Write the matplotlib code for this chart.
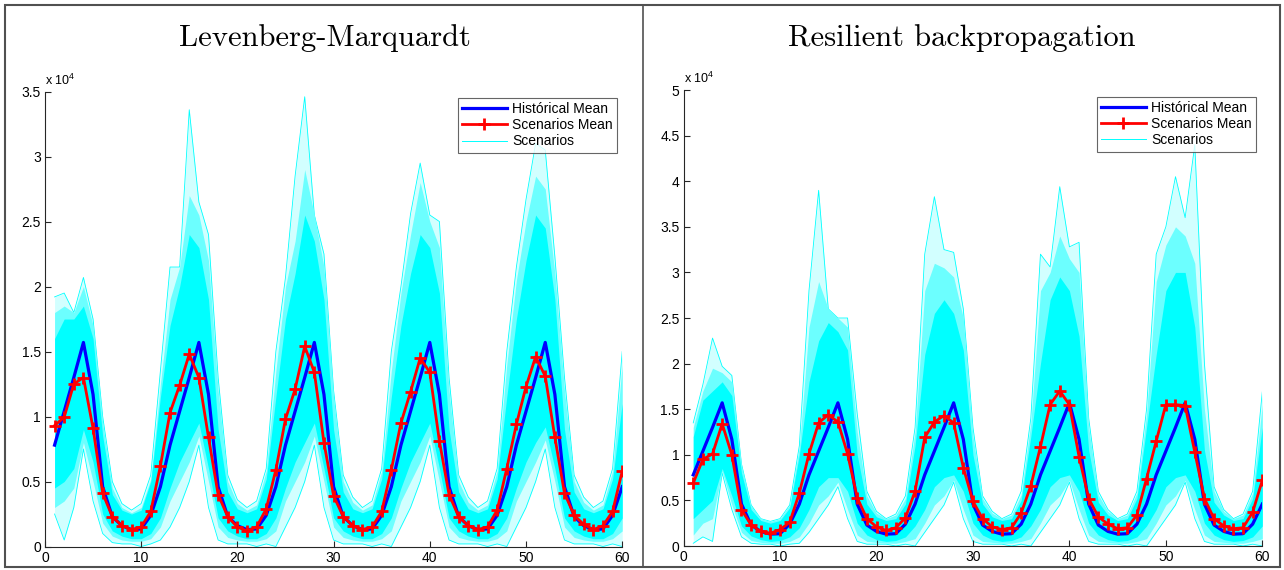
import matplotlib.pyplot as plt
from matplotlib.patches import Rectangle
from matplotlib.lines import Line2D

# eixo x: meses 1..60 ; valores em unidades de 10^4
meses = list(range(1, 61))

media_historica = [
    0.78, 1.04, 1.30, 1.57, 1.17, 0.46, 0.23, 0.16, 0.13, 0.135, 0.24, 0.46,
    0.78, 1.04, 1.30, 1.57, 1.17, 0.46, 0.23, 0.16, 0.13, 0.135, 0.24, 0.46,
    0.78, 1.04, 1.30, 1.57, 1.17, 0.46, 0.23, 0.16, 0.13, 0.135, 0.24, 0.46,
    0.78, 1.04, 1.30, 1.57, 1.17, 0.46, 0.23, 0.16, 0.13, 0.135, 0.24, 0.46,
    0.78, 1.04, 1.30, 1.57, 1.17, 0.46, 0.23, 0.16, 0.13, 0.135, 0.24, 0.46,
]

# ---------------- Levenberg-Marquardt ----------------
lm_media = [
    0.93, 0.995, 1.25, 1.30, 0.91, 0.41, 0.23, 0.16, 0.13, 0.15, 0.27, 0.62,
    1.03, 1.24, 1.48, 1.30, 0.84, 0.40, 0.23, 0.15, 0.12, 0.15, 0.29, 0.59,
    0.98, 1.21, 1.54, 1.34, 0.80, 0.39, 0.23, 0.16, 0.13, 0.15, 0.27, 0.59,
    0.95, 1.19, 1.45, 1.34, 0.81, 0.40, 0.23, 0.16, 0.13, 0.15, 0.28, 0.60,
    0.94, 1.23, 1.46, 1.31, 0.84, 0.41, 0.24, 0.17, 0.13, 0.16, 0.27, 0.58,
]
# envelope dos cenarios (maximo / minimo de todos)
lm_max = [
    1.92, 1.95, 1.80, 2.07, 1.75, 1.00, 0.50, 0.33, 0.28, 0.33, 0.55, 1.35,
    2.15, 2.15, 3.36, 2.65, 2.40, 1.30, 0.55, 0.36, 0.30, 0.35, 0.60, 1.50,
    2.07, 2.85, 3.46, 2.55, 2.25, 1.20, 0.55, 0.38, 0.30, 0.35, 0.60, 1.50,
    2.00, 2.56, 2.95, 2.55, 2.50, 1.30, 0.55, 0.38, 0.30, 0.35, 0.60, 1.50,
    2.15, 2.67, 3.10, 3.05, 2.23, 1.30, 0.55, 0.38, 0.30, 0.35, 0.60, 1.50,
]
lm_min = [
    0.25, 0.05, 0.30, 0.75, 0.35, 0.10, 0.03, 0.02, 0.02, 0.00, 0.02, 0.05,
    0.15, 0.30, 0.50, 0.78, 0.30, 0.05, 0.02, 0.02, 0.02, 0.00, 0.02, 0.00,
    0.15, 0.30, 0.50, 0.78, 0.30, 0.05, 0.02, 0.02, 0.02, 0.00, 0.02, 0.00,
    0.15, 0.30, 0.50, 0.78, 0.30, 0.05, 0.02, 0.02, 0.02, 0.00, 0.02, 0.00,
    0.15, 0.30, 0.50, 0.75, 0.30, 0.05, 0.02, 0.02, 0.02, 0.00, 0.02, 0.00,
]
# faixa onde as linhas ainda sao frequentes
lm_faixa_sup = [
    1.80, 1.85, 1.80, 2.00, 1.70, 0.95, 0.45, 0.30, 0.26, 0.30, 0.52, 1.25,
    1.90, 2.15, 2.70, 2.55, 2.20, 1.20, 0.50, 0.33, 0.28, 0.32, 0.58, 1.35,
    2.00, 2.35, 2.90, 2.55, 2.15, 1.15, 0.50, 0.34, 0.28, 0.32, 0.58, 1.35,
    1.95, 2.40, 2.80, 2.50, 2.30, 1.20, 0.50, 0.34, 0.28, 0.32, 0.58, 1.40,
    2.05, 2.50, 2.85, 2.75, 2.10, 1.20, 0.50, 0.34, 0.28, 0.32, 0.58, 1.40,
]
lm_faixa_inf = [
    0.30, 0.35, 0.45, 0.80, 0.50, 0.18, 0.08, 0.05, 0.04, 0.04, 0.06, 0.15,
    0.35, 0.50, 0.65, 0.85, 0.50, 0.15, 0.07, 0.05, 0.04, 0.04, 0.06, 0.12,
    0.35, 0.50, 0.65, 0.85, 0.50, 0.15, 0.07, 0.05, 0.04, 0.04, 0.06, 0.12,
    0.35, 0.50, 0.65, 0.85, 0.50, 0.15, 0.07, 0.05, 0.04, 0.04, 0.06, 0.12,
    0.35, 0.50, 0.65, 0.82, 0.50, 0.15, 0.07, 0.05, 0.04, 0.04, 0.06, 0.12,
]
# nucleo denso
lm_nucleo_sup = [
    1.60, 1.75, 1.75, 1.85, 1.60, 0.85, 0.40, 0.28, 0.25, 0.28, 0.50, 1.15,
    1.70, 2.00, 2.40, 2.30, 1.90, 0.90, 0.42, 0.29, 0.26, 0.29, 0.52, 1.15,
    1.75, 2.10, 2.55, 2.35, 1.90, 0.90, 0.42, 0.29, 0.26, 0.29, 0.52, 1.15,
    1.70, 2.10, 2.40, 2.30, 1.95, 0.90, 0.42, 0.29, 0.26, 0.29, 0.52, 1.15,
    1.75, 2.20, 2.55, 2.45, 1.90, 0.90, 0.42, 0.29, 0.26, 0.29, 0.52, 1.10,
]
lm_nucleo_inf = [
    0.45, 0.50, 0.60, 0.90, 0.65, 0.25, 0.12, 0.08, 0.06, 0.06, 0.10, 0.22,
    0.45, 0.65, 0.80, 0.95, 0.60, 0.22, 0.12, 0.08, 0.06, 0.06, 0.10, 0.22,
    0.45, 0.65, 0.80, 0.95, 0.60, 0.22, 0.12, 0.08, 0.06, 0.06, 0.10, 0.22,
    0.45, 0.65, 0.80, 0.95, 0.60, 0.22, 0.12, 0.08, 0.06, 0.06, 0.10, 0.22,
    0.45, 0.65, 0.80, 0.92, 0.60, 0.22, 0.12, 0.08, 0.06, 0.06, 0.10, 0.22,
]

# ---------------- Resilient backpropagation ----------------
rp_media = [
    0.69, 0.95, 1.01, 1.34, 1.00, 0.40, 0.23, 0.16, 0.14, 0.18, 0.26, 0.58,
    1.01, 1.35, 1.44, 1.36, 1.01, 0.53, 0.30, 0.21, 0.17, 0.20, 0.31, 0.60,
    1.19, 1.36, 1.43, 1.35, 0.86, 0.49, 0.30, 0.21, 0.18, 0.20, 0.36, 0.66,
    1.09, 1.55, 1.70, 1.55, 0.98, 0.52, 0.32, 0.24, 0.19, 0.20, 0.34, 0.74,
    1.15, 1.55, 1.55, 1.54, 1.03, 0.52, 0.30, 0.22, 0.19, 0.20, 0.37, 0.72,
]
rp_max = [
    1.35, 1.77, 2.28, 1.97, 1.87, 0.90, 0.45, 0.30, 0.27, 0.30, 0.45, 1.10,
    2.80, 3.90, 2.60, 2.50, 2.50, 1.45, 0.60, 0.38, 0.30, 0.35, 0.55, 1.30,
    3.20, 3.83, 3.25, 3.22, 2.60, 1.30, 0.55, 0.38, 0.30, 0.35, 0.60, 1.40,
    3.20, 3.06, 3.94, 3.28, 3.33, 1.40, 0.60, 0.40, 0.30, 0.35, 0.60, 1.50,
    3.20, 3.50, 4.05, 3.60, 4.40, 2.00, 0.65, 0.40, 0.30, 0.35, 0.60, 1.69,
]
rp_min = [
    0.03, 0.10, 0.05, 0.80, 0.40, 0.10, 0.03, 0.02, 0.02, 0.00, 0.02, 0.03,
    0.15, 0.30, 0.45, 0.65, 0.30, 0.05, 0.02, 0.02, 0.02, 0.00, 0.02, 0.00,
    0.15, 0.30, 0.45, 0.70, 0.30, 0.05, 0.02, 0.02, 0.02, 0.00, 0.02, 0.00,
    0.15, 0.30, 0.45, 0.70, 0.30, 0.05, 0.02, 0.02, 0.02, 0.00, 0.02, 0.00,
    0.15, 0.30, 0.45, 0.70, 0.30, 0.05, 0.02, 0.02, 0.02, 0.00, 0.02, 0.00,
]
rp_faixa_sup = [
    1.30, 1.70, 1.95, 1.90, 1.80, 0.88, 0.44, 0.30, 0.27, 0.30, 0.45, 1.08,
    2.40, 2.90, 2.60, 2.50, 2.40, 1.25, 0.55, 0.36, 0.30, 0.34, 0.52, 1.25,
    2.80, 3.10, 3.05, 2.95, 2.50, 1.20, 0.52, 0.36, 0.30, 0.34, 0.56, 1.35,
    2.80, 3.00, 3.40, 3.15, 3.00, 1.30, 0.56, 0.38, 0.30, 0.34, 0.58, 1.45,
    2.90, 3.30, 3.50, 3.40, 3.10, 1.50, 0.60, 0.38, 0.30, 0.34, 0.58, 1.55,
]
rp_faixa_inf = [
    0.12, 0.25, 0.30, 0.82, 0.45, 0.15, 0.06, 0.04, 0.03, 0.03, 0.05, 0.10,
    0.25, 0.45, 0.55, 0.70, 0.40, 0.12, 0.05, 0.04, 0.03, 0.03, 0.05, 0.08,
    0.25, 0.45, 0.55, 0.72, 0.40, 0.12, 0.05, 0.04, 0.03, 0.03, 0.05, 0.08,
    0.25, 0.45, 0.55, 0.72, 0.40, 0.12, 0.05, 0.04, 0.03, 0.03, 0.05, 0.08,
    0.25, 0.45, 0.55, 0.72, 0.40, 0.12, 0.05, 0.04, 0.03, 0.03, 0.05, 0.08,
]
rp_nucleo_sup = [
    1.20, 1.60, 1.70, 1.80, 1.65, 0.80, 0.40, 0.28, 0.25, 0.28, 0.42, 1.00,
    1.80, 2.25, 2.45, 2.35, 2.15, 1.00, 0.46, 0.32, 0.28, 0.30, 0.46, 1.10,
    2.10, 2.55, 2.70, 2.55, 2.15, 1.00, 0.46, 0.32, 0.28, 0.30, 0.50, 1.20,
    2.00, 2.70, 2.95, 2.80, 2.30, 1.05, 0.48, 0.34, 0.28, 0.30, 0.52, 1.30,
    2.10, 2.80, 3.00, 3.00, 2.40, 1.05, 0.48, 0.34, 0.28, 0.30, 0.52, 1.30,
]
rp_nucleo_inf = [
    0.30, 0.40, 0.50, 0.85, 0.55, 0.22, 0.11, 0.07, 0.05, 0.06, 0.10, 0.20,
    0.40, 0.65, 0.75, 0.75, 0.60, 0.25, 0.12, 0.07, 0.05, 0.06, 0.10, 0.22,
    0.40, 0.65, 0.75, 0.78, 0.60, 0.25, 0.12, 0.07, 0.05, 0.06, 0.10, 0.22,
    0.40, 0.65, 0.75, 0.78, 0.60, 0.25, 0.12, 0.07, 0.05, 0.06, 0.10, 0.22,
    0.40, 0.65, 0.75, 0.78, 0.60, 0.25, 0.12, 0.07, 0.05, 0.06, 0.10, 0.22,
]

rotulos_legenda = ['Histórical Mean', 'Scenarios Mean', 'Scenarios']

plt.rcParams['font.family'] = ['Liberation Sans', 'DejaVu Sans']
COR_EIXO = '#262626'


def desenhar_painel(ax, media_cen, c_min, c_max, f_inf, f_sup, n_inf, n_sup,
                    ymax, ancora):
    # cenarios: contorno extremo (poucas linhas), faixa intermediaria e nucleo denso
    ax.fill_between(meses, c_min, c_max, color='#d2ffff', lw=0, zorder=1)
    ax.plot(meses, c_max, color='#00ffff', lw=0.6, zorder=1)
    ax.plot(meses, c_min, color='#00ffff', lw=0.6, zorder=1)
    ax.fill_between(meses, f_inf, f_sup, color='#6cffff', lw=0, zorder=1)
    ax.fill_between(meses, n_inf, n_sup, color='#00ffff', lw=0, zorder=2)
    h_cen = Line2D([], [], color='#00ffff', lw=0.7)

    h_hist, = ax.plot(meses, media_historica, color='#0000ff', lw=2.3, zorder=4)
    h_med, = ax.plot(meses, media_cen, color='#ff0000', lw=2.0, marker='+',
                     ms=8, mew=2.0, zorder=5)

    ax.set_xlim(0, 60)
    ax.set_ylim(0, ymax)
    ax.set_xticks(range(0, 61, 10))
    yt = [i * 0.5 for i in range(int(ymax / 0.5) + 1)]
    ax.set_yticks(yt)
    ax.set_yticklabels(['%g' % v for v in yt])
    for lado in ['top', 'right']:
        ax.spines[lado].set_visible(False)
    for lado in ['left', 'bottom']:
        ax.spines[lado].set_color(COR_EIXO)
        ax.spines[lado].set_linewidth(0.8)
    ax.tick_params(direction='in', length=4, width=0.8, color=COR_EIXO,
                   labelsize=10, pad=3)
    ax.text(0.0, 1.008, r'x 10$^{\mathregular{4}}$', transform=ax.transAxes,
            fontsize=9, ha='left', va='bottom')

    leg = ax.legend([h_hist, h_med, h_cen], rotulos_legenda, loc='upper right',
                    bbox_to_anchor=ancora, fontsize=10, frameon=True,
                    fancybox=False, handlelength=3.2, handletextpad=0.4,
                    labelspacing=0.15, borderpad=0.3, borderaxespad=0)
    leg.get_frame().set_edgecolor('#404040')
    leg.get_frame().set_linewidth(0.8)
    leg.set_zorder(10)


fig = plt.figure(figsize=(12.84, 5.70), dpi=100)
ax1 = fig.add_axes([0.0350, 0.0412, 0.4496, 0.7982])
ax2 = fig.add_axes([0.5324, 0.0421, 0.4507, 0.8000])

desenhar_painel(ax1, lm_media, lm_min, lm_max, lm_faixa_inf, lm_faixa_sup,
                lm_nucleo_inf, lm_nucleo_sup, 3.5, (0.9908, 0.9857))
desenhar_painel(ax2, rp_media, rp_min, rp_max, rp_faixa_inf, rp_faixa_sup,
                rp_nucleo_inf, rp_nucleo_sup, 5.0, (0.9891, 0.9846))

fig.text(325 / 1284, 1 - 38 / 570, 'Levenberg-Marquardt', family='cmr10',
         fontsize=22, ha='center', va='center')
fig.text(962 / 1284, 1 - 38 / 570, 'Resilient backpropagation', family='cmr10',
         fontsize=22, ha='center', va='center')

# moldura externa e divisoria
fig.add_artist(Rectangle((5 / 1284, 3.5 / 570), 1274.5 / 1284, 562 / 570,
                         transform=fig.transFigure, fill=False,
                         edgecolor='#505050', lw=1.5))
fig.add_artist(Line2D([643 / 1284, 643 / 1284], [3.5 / 570, 565.5 / 570],
                      transform=fig.transFigure, color='#505050', lw=1.2))

fig.savefig('out.png', dpi=100)
